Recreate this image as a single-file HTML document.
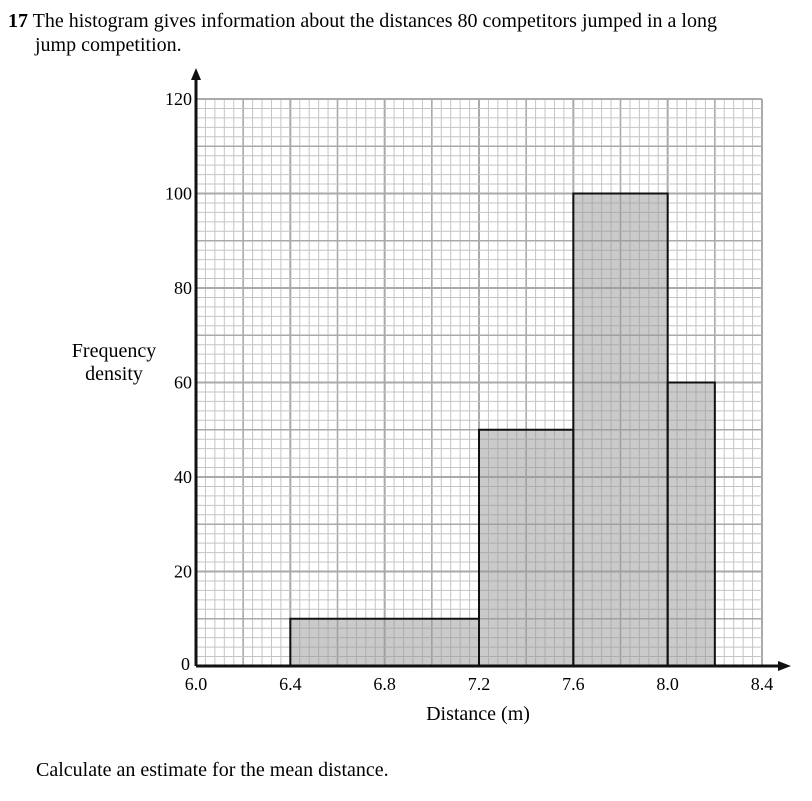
<!DOCTYPE html>
<html><head><meta charset="utf-8"><style>
body{margin:0;background:#fff;width:812px;height:801px;overflow:hidden;font-family:"Liberation Serif",serif;}
</style></head><body>
<svg width="812" height="801" style="position:absolute;left:0;top:0">
<text x="8" y="27" font-size="20"><tspan font-weight="bold">17</tspan> The histogram gives information about the distances 80 competitors jumped in a long</text>
<text x="35" y="51" font-size="20">jump competition.</text>
<g id="grid"></g>
<g id="bars"></g>
<g id="axes"></g>
<text x="114" y="357" font-size="20" text-anchor="middle">Frequency</text>
<text x="114" y="380" font-size="20" text-anchor="middle">density</text>
<text x="478" y="720" font-size="20" text-anchor="middle">Distance (m)</text>
<text x="36" y="776" font-size="20">Calculate an estimate for the mean distance.</text>
</svg>
<script>
const binStarts=[6.4,7.2,7.6,8.0];
const binEnds=[7.2,7.6,8.0,8.2];
const densities=[10,50,100,60];
const xTicks=["6.0","6.4","6.8","7.2","7.6","8.0","8.4"];
const yTicks=[0,20,40,60,80,100,120];
const X0=196,X1=762,Y0=666,Y1=99;
const xs=v=>X0+(v-6)/2.4*(X1-X0);
const ys=v=>Y0-v/120*(Y0-Y1);
const NS="http://www.w3.org/2000/svg";
function mk(tag,at,parent){const e=document.createElementNS(NS,tag);for(const k in at)e.setAttribute(k,at[k]);parent.appendChild(e);return e;}
const grid=document.getElementById('grid'),bars=document.getElementById('bars'),axes=document.getElementById('axes');
for(let i=0;i<=60;i++){const x=xs(6+i*0.04);const w=i%10==0?2:(i%5==0?1.6:1);const c=i%5==0?'#aaa':'#c4c4c4';
 const l=mk('line',{x1:x,x2:x,y1:Y1,y2:Y0,stroke:c,'stroke-width':w},grid);
 
 }
for(let i=0;i<=60;i++){const y=ys(i*2);const w=i%10==0?2:(i%5==0?1.6:1);const c=i%5==0?'#aaa':'#c4c4c4';
 const l=mk('line',{x1:X0,x2:X1,y1:y,y2:y,stroke:c,'stroke-width':w},grid);
 
 }
binStarts.forEach((s,i)=>{const x=xs(s),x2=xs(binEnds[i]),y=ys(densities[i]);
 const r=mk('rect',{x:x,y:y,width:x2-x,height:Y0-y,fill:'rgba(150,150,150,0.5)',stroke:'#111','stroke-width':2},bars);
 
 });
const ya=mk('line',{x1:X0,x2:X0,y1:Y0,y2:78,stroke:'#111','stroke-width':3},axes);

const yh=mk('polygon',{points:`${X0-5},80 ${X0+5},80 ${X0},68`,fill:'#111'},axes);

const xa=mk('line',{x1:X0,x2:780,y1:Y0,y2:Y0,stroke:'#111','stroke-width':3},axes);

const xh=mk('polygon',{points:`778,${Y0-5} 778,${Y0+5} 791,${Y0}`,fill:'#111'},axes);

xTicks.forEach(t=>{const tx=mk('text',{x:xs(parseFloat(t)),y:690,'font-size':18,'text-anchor':'middle'},axes);tx.textContent=t;
 });
yTicks.forEach(t=>{const tx=mk('text',{x:t==0?190:X0-4,y:ys(t)+(t==0?4:6),'font-size':18,'text-anchor':'end'},axes);tx.textContent=t;
 });
</script>
</body></html>
